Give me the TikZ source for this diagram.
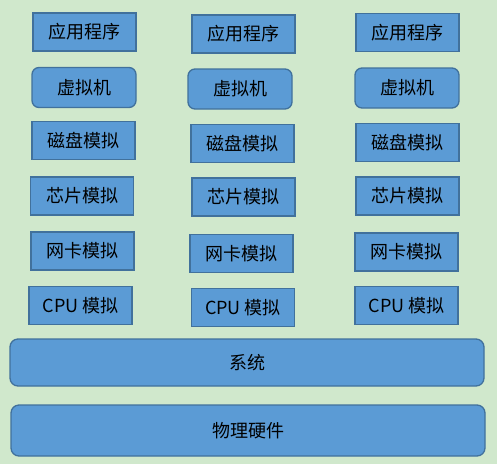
\documentclass[tikz,border=0pt]{standalone}
\usepackage{fontspec}
\newfontfamily\cjk{Noto Sans CJK SC}
\usepackage{tikz}
\usetikzlibrary{positioning}
\definecolor{bgGreen}{RGB}{208,232,204}
\definecolor{boxBlue}{RGB}{91,155,213}
\definecolor{edgeBlue}{RGB}{65,113,156}
\tikzstyle{block}=[draw=edgeBlue, fill=boxBlue, line width=1.6pt, rectangle, inner sep=0pt, minimum width=103pt, minimum height=38pt, font=\cjk\fontsize{18}{20}\selectfont]
\tikzstyle{vmbox}=[block, rounded corners=7pt, line width=1.3pt, minimum width=104pt, minimum height=40pt]
\tikzstyle{layer}=[block, rounded corners=8pt, line width=1.3pt, minimum width=474pt]

\begin{document}
\begin{tikzpicture}[x=1pt, y=-1pt]
                    \fill[bgGreen] (0,0) rectangle (497,464);
                    \useasboundingbox (0,0) rectangle (497,464);
                    % first column
                    \node [block] (app_a) at (84.5,32) {应用程序};
                    \node [vmbox] (vm_a) at (84,87.5) {虚拟机};
                    \node [block] (disk_a) at (83.5,140.5) {磁盘模拟};
                    \node [block] (chip_a) at (82,196) {芯片模拟};
                    \node [block] (nic_a) at (82.5,251) {网卡模拟};
                    \node [block] (cpu_a) at (80.5,305.5) {CPU 模拟};
                    % second column
                    \node [block] (app_b) at (243.5,34) {应用程序};
                    \node [vmbox] (vm_b) at (240,89) {虚拟机};
                    \node [block] (disk_b) at (242.5,143.5) {磁盘模拟};
                    \node [block] (chip_b) at (243.5,197) {芯片模拟};
                    \node [block] (nic_b) at (241.5,253.5) {网卡模拟};
                    \node [block] (cpu_b) at (243,307.5) {CPU 模拟};
                    % third column
                    \node [block] (app_c) at (407.5,32.5) {应用程序};
                    \node [vmbox] (vm_c) at (407,88) {虚拟机};
                    \node [block] (disk_c) at (407.5,142.5) {磁盘模拟};
                    \node [block] (chip_c) at (407.5,196) {芯片模拟};
                    \node [block] (nic_c) at (406.5,252) {网卡模拟};
                    \node [block] (cpu_c) at (406.5,305.5) {CPU 模拟};
                    % shared layers
                    \node [layer, minimum height=47pt] (system) at (247,362.5) {系统};
                    \node [layer, minimum height=51pt] (hardware) at (248,430.5) {物理硬件};
                \end{tikzpicture}
\end{document}
